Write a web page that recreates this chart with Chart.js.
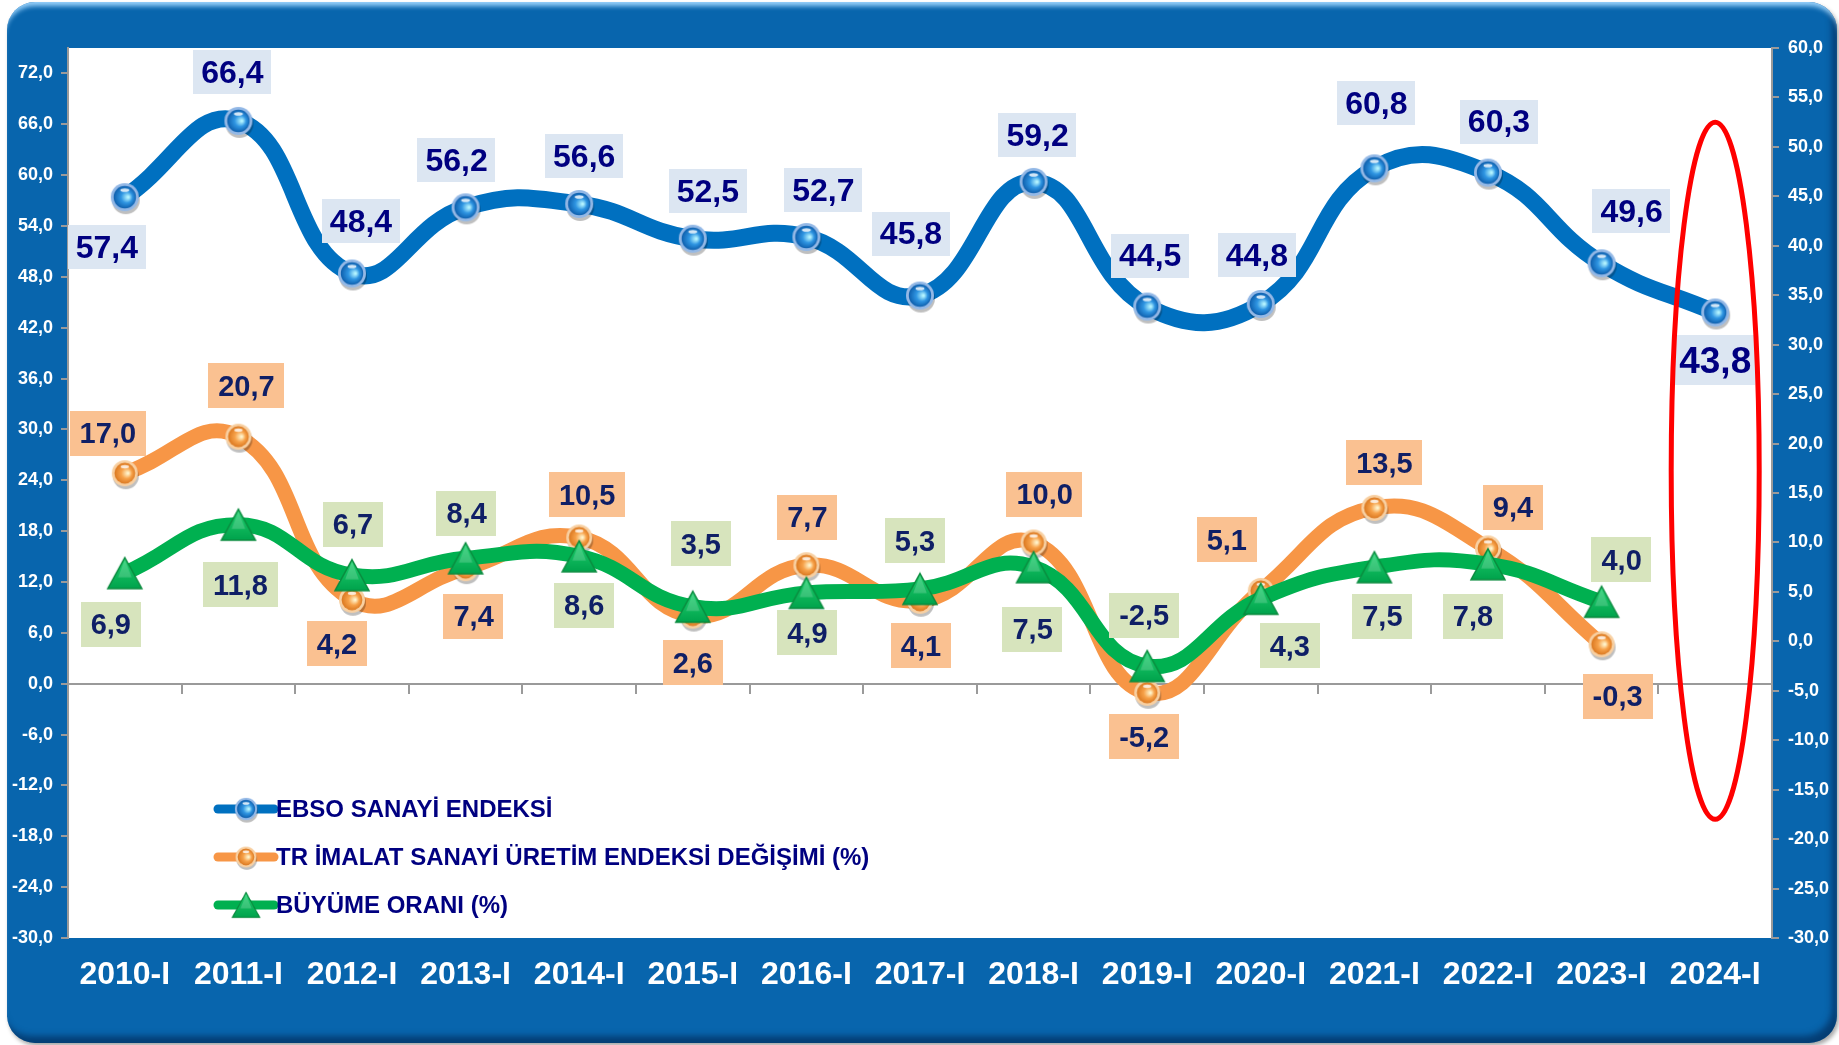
<!DOCTYPE html>
<html lang="tr">
<head>
<meta charset="utf-8">
<title>EBSO Sanayi Endeksi</title>
<script src="https://cdn.jsdelivr.net/npm/chart.js@4.4.1/dist/chart.umd.min.js"></script>
<style>
    html, body { margin: 0; padding: 0; background: #fff; overflow: hidden; }
    #frame {
        position: absolute; left: 7px; top: 2px; width: 1830px; height: 1041px;
        border-radius: 28px; background: #0865ad;
        box-shadow: inset 0 7px 5px -3px rgba(160, 215, 255, 0.95),
                    inset -5px -7px 6px rgba(0, 30, 70, 0.55),
                    2px 3px 4px rgba(0, 0, 0, 0.35);
    }
    #wrap { position: absolute; left: 0; top: 0; width: 1839px; height: 1045px; }
</style>
</head>
<body>
<div id="frame"></div>
<div id="wrap"><canvas id="chart"></canvas></div>
<script>
// ============================================
// DATOS
// ============================================

const periods = ['2010-I', '2011-I', '2012-I', '2013-I', '2014-I', '2015-I', '2016-I', '2017-I',
    '2018-I', '2019-I', '2020-I', '2021-I', '2022-I', '2023-I', '2024-I'];

const ebso   = [57.4, 66.4, 48.4, 56.2, 56.6, 52.5, 52.7, 45.8, 59.2, 44.5, 44.8, 60.8, 60.3, 49.6, 43.8];
const imalat = [17.0, 20.7, 4.2, 7.4, 10.5, 2.6, 7.7, 4.1, 10.0, -5.2, 5.1, 13.5, 9.4, -0.3, null];
const buyume = [6.9, 11.8, 6.7, 8.4, 8.6, 3.5, 4.9, 5.3, 7.5, -2.5, 4.3, 7.5, 7.8, 4.0, null];

const leftTicks  = [-30, -24, -18, -12, -6, 0, 6, 12, 18, 24, 30, 36, 42, 48, 54, 60, 66, 72];
const rightTicks = [-30, -25, -20, -15, -10, -5, 0, 5, 10, 15, 20, 25, 30, 35, 40, 45, 50, 55, 60];

const seriesNames = ['EBSO SANAYİ ENDEKSİ', 'TR İMALAT SANAYİ ÜRETİM ENDEKSİ DEĞİŞİMİ (%)', 'BÜYÜME ORANI (%)'];

// desplazamiento de etiquetas (px) [dx, dy]
const ebsoOff = [[-18, 50], [-6, -49], [9, -52], [-9, -47], [5, -48], [15, -48], [17, -47], [-9, -62],
    [4, -47], [3, -51], [-4, -49], [2, -65], [11, -51], [30, -52], [0, 48]];
const imalatOff = [[-17, -40], [8, -51], [-15, 44], [8, 48], [8, -43], [0, 47], [1, -48], [1, 45],
    [11, -48], [-3, 44], [-34, -51], [10, -45], [25, -41], [16, 52]];
const buyumeOff = [[-14, 51], [2, 60], [1, -51], [1, -45], [5, 49], [8, -63], [1, 40], [-5, -48],
    [-1, 62], [-3, -51], [29, 47], [8, 49], [-15, 52], [20, -42]];

// ============================================
// COLORES
// ============================================

const colors = {
    blue: '#0070c0',
    orange: '#f79646',
    green: '#00b050',
    blueBox: '#dce6f2',
    orangeBox: '#fac191',
    greenBox: '#d7e4bd',
    navy: '#000080',
    navy2: '#0f1f66',
    axis: '#9a9a9a'
};

const FONT = "'Liberation Sans', Arial, sans-serif";
const fmt = v => v.toFixed(1).replace('.', ',');

// ============================================
// MARCADORES
// ============================================

function makeBall(r, rim, hi, body, edge) {
    const pad = 5, s = 2 * r + pad * 2;
    const c = document.createElement('canvas');
    c.width = s; c.height = s;
    const g = c.getContext('2d');
    const cx = s / 2, cy = s / 2;
    g.fillStyle = 'rgba(0,0,0,0.25)';
    g.beginPath(); g.arc(cx + 1, cy + 3, r, 0, Math.PI * 2); g.fill();
    g.fillStyle = rim;
    g.beginPath(); g.arc(cx, cy, r, 0, Math.PI * 2); g.fill();
    const gr = g.createRadialGradient(cx + r * 0.25, cy, r * 0.05, cx, cy, r * 0.85);
    gr.addColorStop(0, hi);
    gr.addColorStop(0.45, body);
    gr.addColorStop(1, edge);
    g.fillStyle = gr;
    g.beginPath(); g.arc(cx, cy, r * 0.8, 0, Math.PI * 2); g.fill();
    g.fillStyle = 'rgba(255,255,255,0.8)';
    g.beginPath(); g.ellipse(cx, cy - r * 0.5, r * 0.32, r * 0.13, 0, 0, Math.PI * 2); g.fill();
    return c;
}

function makeTriangle(w, h) {
    const c = document.createElement('canvas');
    c.width = w + 4; c.height = h + 4;
    const g = c.getContext('2d');
    const gr = g.createLinearGradient(0, 2, 0, h + 2);
    gr.addColorStop(0, '#21d06f');
    gr.addColorStop(1, '#00a34c');
    g.fillStyle = gr;
    g.strokeStyle = '#0a8a3e';
    g.lineWidth = 1.5;
    g.beginPath();
    g.moveTo(c.width / 2, 2);
    g.lineTo(w + 2, h + 2);
    g.lineTo(2, h + 2);
    g.closePath();
    g.fill(); g.stroke();
    g.fillStyle = 'rgba(255,255,255,0.18)';
    g.beginPath();
    g.moveTo(c.width / 2, 4);
    g.lineTo(c.width / 2 + w * 0.2, h * 0.7);
    g.lineTo(c.width / 2 - w * 0.2, h * 0.7);
    g.closePath(); g.fill();
    return c;
}

const ballBlue = makeBall(14, '#93b8e6', '#b4f4ff', '#2f95e2', '#0b5aa8');
const ballOrange = makeBall(13, '#f8d0a2', '#fff4cc', '#f7a24a', '#d8741c');
const triGreen = makeTriangle(34, 31);

// ============================================
// PLUGINS
// ============================================

const fondoBlanco = {
    id: 'fondoBlanco',
    beforeDraw(chart) {
        const { ctx, chartArea: a } = chart;
        ctx.save();
        ctx.fillStyle = '#fff';
        ctx.fillRect(a.left, a.top, a.right - a.left, a.bottom - a.top);
        ctx.restore();
    }
};

function drawBox(ctx, text, x, y, font, bg, color, padX, h) {
    ctx.font = font;
    const w = ctx.measureText(text).width + padX * 2;
    ctx.fillStyle = bg;
    ctx.fillRect(Math.round(x - w / 2), Math.round(y - h / 2), Math.round(w), h);
    ctx.fillStyle = color;
    ctx.textAlign = 'center';
    ctx.textBaseline = 'middle';
    ctx.fillText(text, x, y + 2);
}

const etiquetas = {
    id: 'etiquetas',
    afterDatasetsDraw(chart) {
        const { ctx } = chart;
        const x = chart.scales.x;
        const yL = chart.scales.yL;
        const yR = chart.scales.yR;
        ctx.save();

        imalat.forEach((v, i) => {
            if (v === null) return;
            const px = x.getPixelForValue(i), py = yR.getPixelForValue(v);
            drawBox(ctx, fmt(v), px + imalatOff[i][0], py + imalatOff[i][1],
                'bold 29px ' + FONT, colors.orangeBox, colors.navy2, 10, 45);
        });
        buyume.forEach((v, i) => {
            if (v === null) return;
            const px = x.getPixelForValue(i), py = yR.getPixelForValue(v);
            drawBox(ctx, fmt(v), px + buyumeOff[i][0], py + buyumeOff[i][1],
                'bold 29px ' + FONT, colors.greenBox, colors.navy2, 10, 45);
        });
        ebso.forEach((v, i) => {
            const px = x.getPixelForValue(i), py = yL.getPixelForValue(v);
            const last = i === ebso.length - 1;
            drawBox(ctx, fmt(v), px + ebsoOff[i][0], py + ebsoOff[i][1],
                'bold ' + (last ? 37 : 32) + 'px ' + FONT, colors.blueBox, colors.navy,
                last ? 4 : 8, last ? 50 : 44);
        });

        // elipse roja sobre el último periodo
        const ex = x.getPixelForValue(periods.length - 1);
        const top = yR.getPixelForValue(52.5), bot = yR.getPixelForValue(-18);
        ctx.strokeStyle = '#ff0000';
        ctx.lineWidth = 5;
        ctx.beginPath();
        ctx.ellipse(ex, (top + bot) / 2, 44, (bot - top) / 2, 0, 0, Math.PI * 2);
        ctx.stroke();

        ctx.restore();
    }
};

const leyenda = {
    id: 'leyenda',
    afterDraw(chart) {
        const { ctx, chartArea: a } = chart;
        const items = [
            { color: colors.blue, img: ballBlue },
            { color: colors.orange, img: ballOrange },
            { color: colors.green, img: triGreen }
        ];
        const x0 = a.left + 150, x1 = a.left + 206;
        ctx.save();
        items.forEach((it, k) => {
            const y = a.bottom - 129 + k * 48;
            ctx.strokeStyle = it.color;
            ctx.lineWidth = 9;
            ctx.lineCap = 'round';
            ctx.beginPath(); ctx.moveTo(x0, y); ctx.lineTo(x1, y); ctx.stroke();
            const s = 0.8;
            const w = it.img.width * s, h = it.img.height * s;
            ctx.drawImage(it.img, (x0 + x1) / 2 - w / 2, y - h / 2, w, h);
            ctx.fillStyle = colors.navy;
            ctx.font = 'bold 24px ' + FONT;
            ctx.textAlign = 'left';
            ctx.textBaseline = 'middle';
            ctx.fillText(seriesNames[k], x1 + 2, y + 1);
        });
        ctx.restore();
    }
};

// ============================================
// GRÁFICO
// ============================================

const axisTicks = {
    color: '#fff',
    font: { family: FONT, size: 18, weight: 'bold' },
    padding: 8
};

new Chart(document.getElementById('chart'), {
    type: 'line',
    data: {
        labels: periods,
        datasets: [
            {
                label: seriesNames[0],
                data: ebso,
                yAxisID: 'yL',
                borderColor: colors.blue,
                borderWidth: 17,
                pointStyle: ballBlue,
                pointRadius: 14,
                tension: 0.45,
                order: 1
            },
            {
                label: seriesNames[1],
                data: imalat,
                yAxisID: 'yR',
                borderColor: colors.orange,
                borderWidth: 15,
                pointStyle: ballOrange,
                pointRadius: 13,
                tension: 0.45,
                order: 3
            },
            {
                label: seriesNames[2],
                data: buyume,
                yAxisID: 'yR',
                borderColor: colors.green,
                borderWidth: 15,
                pointStyle: triGreen,
                pointRadius: 16,
                tension: 0.45,
                order: 2
            }
        ]
    },
    options: {
        responsive: true,
        maintainAspectRatio: false,
        animation: false,
        layout: { padding: { top: 48, left: 0, right: 0, bottom: 0 } },
        plugins: {
            legend: { display: false },
            tooltip: { enabled: false }
        },
        scales: {
            x: {
                type: 'category',
                position: 'bottom',
                offset: true,
                grid: { display: false, drawTicks: false },
                border: { display: false },
                ticks: {
                    color: '#fff',
                    font: { family: FONT, size: 32, weight: 'bold' },
                    padding: 18,
                    maxRotation: 0,
                    autoSkip: false
                },
                afterFit(scale) { scale.height = 107; }
            },
            x2: {
                type: 'category',
                labels: periods,
                offset: true,
                position: { yL: 0 },
                grid: { offset: true, drawOnChartArea: false, tickLength: 9, color: colors.axis, lineWidth: 2 },
                border: { color: colors.axis, width: 2 },
                ticks: { display: false }
            },
            yL: {
                position: 'left',
                min: -30,
                max: 75,
                afterBuildTicks(scale) { scale.ticks = leftTicks.map(v => ({ value: v })); },
                grid: { drawOnChartArea: false, tickLength: 7, color: colors.axis, lineWidth: 2 },
                border: { color: colors.axis, width: 2 },
                ticks: { ...axisTicks, callback: v => fmt(v) },
                afterFit(scale) { scale.width = 68; }
            },
            yR: {
                position: 'right',
                min: -30,
                max: 60,
                afterBuildTicks(scale) { scale.ticks = rightTicks.map(v => ({ value: v })); },
                grid: { drawOnChartArea: false, tickLength: 7, color: colors.axis, lineWidth: 2 },
                border: { color: colors.axis, width: 2 },
                ticks: { ...axisTicks, padding: 9, callback: v => fmt(v) },
                afterFit(scale) { scale.width = 67; }
            }
        }
    },
    plugins: [fondoBlanco, etiquetas, leyenda]
});
</script>
</body>
</html>
